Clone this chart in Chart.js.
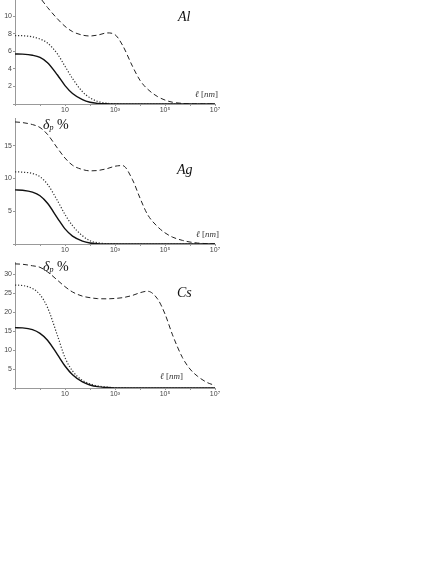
<!DOCTYPE html>
<html>
<head>
<meta charset="utf-8">
<script src="https://cdn.jsdelivr.net/npm/chart.js"></script>
<style>
    body { margin: 0; background: #fff; width: 436px; height: 564px; position: relative; overflow: hidden; }
    canvas { position: absolute; left: 0; }
    .lbl { position: absolute; font-family: 'Liberation Serif', serif; color: #111; white-space: nowrap; line-height: 1; }
    .metal { font-style: italic; font-size: 14px; }
    .delta { font-size: 14px; }
    .delta sub { font-size: 8px; font-style: italic; vertical-align: -1px; }
    .ell { font-size: 9px; color: #333; }
</style>
</head>
<body>
<canvas id="al" width="230" height="115" style="top:0px"></canvas>
<canvas id="ag" width="230" height="137" style="top:118px"></canvas>
<canvas id="cs" width="230" height="137" style="top:262px"></canvas>

<div class="lbl metal" style="left:178px; top:10px">Al</div>
<div class="lbl metal" style="left:177px; top:163px">Ag</div>
<div class="lbl metal" style="left:177px; top:286px">Cs</div>

<div class="lbl delta" style="left:43px; top:118px"><i>δ</i><sub>p</sub> %</div>
<div class="lbl delta" style="left:43px; top:260px"><i>δ</i><sub>p</sub> %</div>

<div class="lbl ell" style="left:195px; top:90px"><i>ℓ</i> [<i>nm</i>]</div>
<div class="lbl ell" style="left:196px; top:230px"><i>ℓ</i> [<i>nm</i>]</div>
<div class="lbl ell" style="left:160px; top:372px"><i>ℓ</i> [<i>nm</i>]</div>

<script>
    // film thickness l [nm], log axis
    const lengths = [0.1, 0.2, 0.5, 1, 2, 5, 10, 20, 50, 100, 200, 500,
        1e3, 2e3, 5e3, 1e4, 2e4, 5e4, 1e5, 2e5, 5e5, 1e6, 2e6, 5e6, 1e7];
    const xTicks = [0.1, 1, 10, 100, 1e3, 1e4, 1e5, 1e6, 1e7];
    const xLabels = {10: '10', 1000: '10³', 100000: '10⁵', 10000000: '10⁷'};

    // Al
    const alSolid  = [5.7, 5.68, 5.55, 5.3, 4.7, 3.3, 2.1, 1.2, 0.5, 0.2, 0.07, 0.02,
        0, 0, 0, 0, 0, 0, 0, 0, 0, 0, 0, 0, 0];
    const alDotted = [7.8, 7.78, 7.65, 7.4, 6.95, 5.7, 4.3, 2.9, 1.4, 0.7, 0.3, 0.08, 0.02,
        0, 0, 0, 0, 0, 0, 0, 0, 0, 0, 0, 0];
    const alDashed = [13.6, 13.5, 12.9, 12.1, 11.0, 9.7, 8.85, 8.25, 7.85, 7.75, 7.85, 8.1,
        7.9, 6.7, 4.3, 2.7, 1.7, 0.85, 0.45, 0.2, 0.07, 0.02, 0, 0, 0];

    // Ag
    const agSolid  = [8.25, 8.2, 7.9, 7.35, 6.2, 3.95, 2.3, 1.2, 0.45, 0.15, 0.05, 0.01,
        0, 0, 0, 0, 0, 0, 0, 0, 0, 0, 0, 0, 0];
    const agDotted = [11.0, 10.95, 10.75, 10.25, 9.1, 6.6, 4.5, 2.8, 1.25, 0.5, 0.2, 0.05, 0.01,
        0, 0, 0, 0, 0, 0, 0, 0, 0, 0, 0, 0];
    const agDashed = [18.6, 18.5, 18.2, 17.75, 16.7, 14.6, 13.1, 12.0, 11.35, 11.15, 11.2, 11.5,
        11.85, 11.95, 9.8, 7.0, 4.5, 2.65, 1.7, 1.05, 0.55, 0.3, 0.15, 0.05, 0.02];

    // Cs
    const csSolid  = [15.9, 15.85, 15.4, 14.4, 12.6, 8.8, 5.8, 3.5, 1.6, 0.8, 0.35, 0.12, 0.04,
        0, 0, 0, 0, 0, 0, 0, 0, 0, 0, 0, 0];
    const csDotted = [27.1, 27.0, 26.2, 24.6, 21.2, 13.8, 8.0, 4.5, 2.0, 1.1, 0.55, 0.22, 0.08, 0.02,
        0, 0, 0, 0, 0, 0, 0, 0, 0, 0, 0];
    const csDashed = [32.7, 32.6, 32.2, 31.8, 30.6, 28.4, 26.7, 25.3, 24.2, 23.8, 23.55, 23.5,
        23.6, 23.8, 24.4, 25.1, 25.5, 23.5, 19.5, 14, 8, 5, 3.1, 1.4, 0.7];

    const tickFont = {size: 7, family: "'Liberation Sans', 'DejaVu Sans', sans-serif"};

    const toPoints = values => lengths.map((x, i) => ({x: x, y: values[i]}));

    const line = (values, dash, width, color) => ({
        data: toPoints(values),
        borderColor: color,
        borderWidth: width,
        borderDash: dash,
        pointRadius: 0,
        fill: false,
        cubicInterpolationMode: 'monotone'
    });

    const makePanel = (id, solid, dotted, dashed, yMax, yStep) => {
        new Chart(document.getElementById(id), {
            type: 'line',
            data: {
                datasets: [
                    line(solid, [], 1.4, '#111'),
                    line(dotted, [1.2, 1.8], 1.2, '#333'),
                    line(dashed, [5, 3], 1, '#222')
                ]
            },
            options: {
                responsive: false,
                animation: false,
                events: [],
                layout: {padding: {left: 0, right: 15, top: 0, bottom: 0}},
                plugins: {legend: {display: false}, tooltip: {enabled: false}},
                scales: {
                    x: {
                        type: 'logarithmic',
                        min: 0.1,
                        max: 1e7,
                        border: {color: '#999', width: 1},
                        grid: {drawOnChartArea: false, tickLength: 2, color: '#999'},
                        ticks: {
                            autoSkip: false, maxRotation: 0, padding: 0,
                            color: '#444', font: tickFont,
                            callback: v => xLabels[v] || ''
                        },
                        afterBuildTicks: s => { s.ticks = xTicks.map(v => ({value: v})); },
                        afterFit: s => { s.height = 11; s.paddingLeft = 0; s.paddingRight = 0; }
                    },
                    y: {
                        type: 'linear',
                        min: 0,
                        max: yMax,
                        border: {color: '#999', width: 1},
                        grid: {drawOnChartArea: false, tickLength: 2, color: '#999'},
                        ticks: {
                            stepSize: yStep, includeBounds: false, padding: 1,
                            color: '#444', font: tickFont,
                            callback: v => v === 0 ? '' : v
                        },
                        afterFit: s => { s.width = 15; s.paddingTop = 0; s.paddingBottom = 0; }
                    }
                }
            }
        });
    };

    makePanel('al', alSolid, alDotted, alDashed, 11.85, 2);
    makePanel('ag', agSolid, agDotted, agDashed, 19.2, 5);
    makePanel('cs', csSolid, csDotted, csDashed, 33.2, 5);
</script>
</body>
</html>
